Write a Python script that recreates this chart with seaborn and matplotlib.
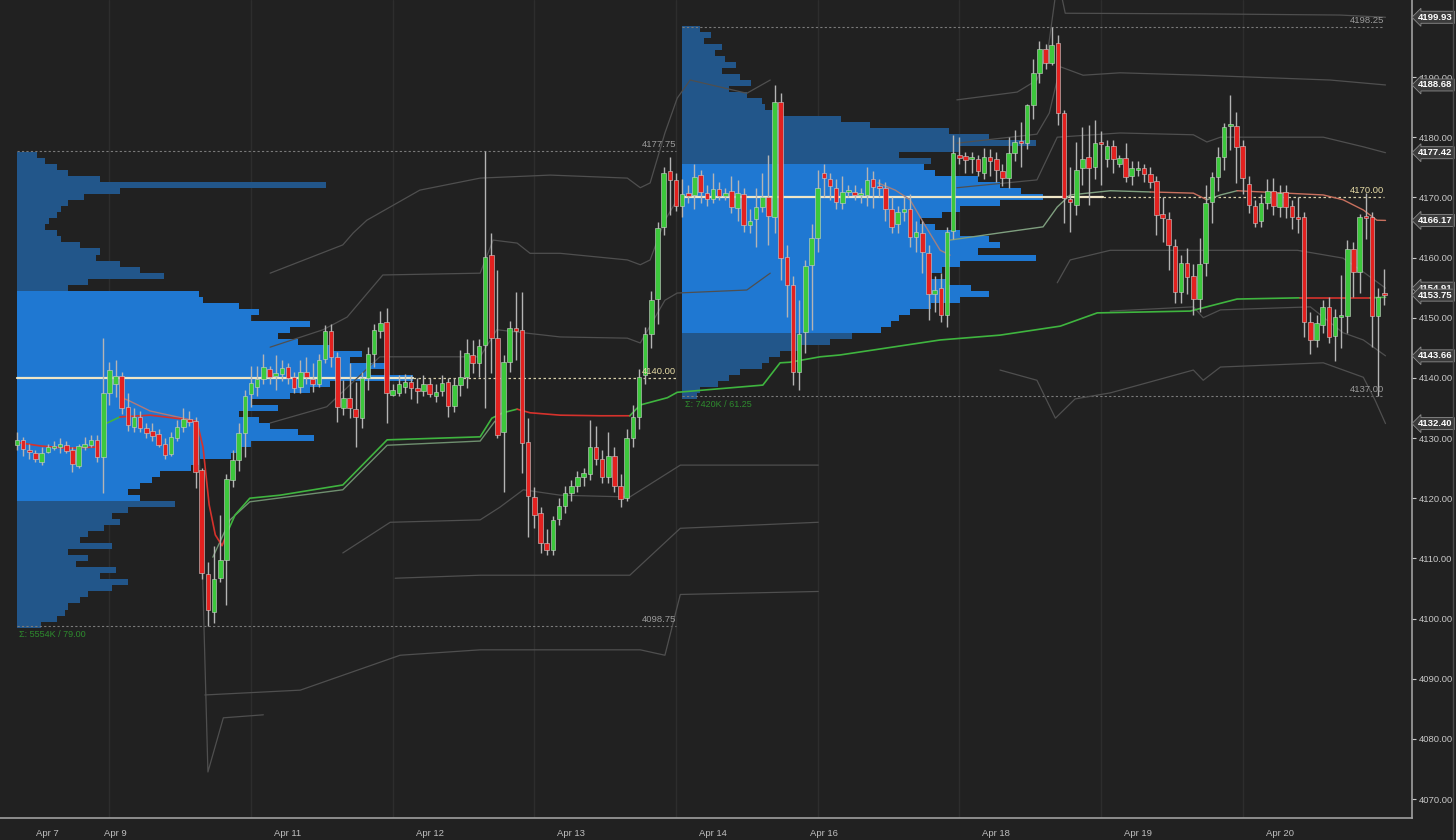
import numpy as np
import pandas as pd
import matplotlib
matplotlib.use("Agg")
import matplotlib.pyplot as plt
import seaborn as sns

# ---------------- candle data (bar index = position) ----------------
opens = [4128.8,4129.7,4128.0,4127.5,4126.0,4127.7,4128.4,4128.5,4128.9,4128.0,4125.4,4128.5,4128.9,4129.7,4126.9,4137.5,4139.0,4140.3,4135.2,4131.9,4133.5,4131.7,4131.2,4130.7,4129.0,4127.4,4130.0,4131.9,4133.2,4132.9,4124.7,4107.4,4101.1,4106.8,4109.8,4123.0,4126.4,4130.9,4137.3,4138.5,4139.8,4141.5,
         4140.3,4140.7,4141.8,4140.2,4138.5,4141.0,4139.8,4139.0,4143.2,4147.8,4143.5,4135.0,4136.7,4134.8,4133.4,4140.0,4144.0,4147.8,4149.3,4137.2,4137.5,4138.5,4139.3,4138.3,4137.8,4139.0,4137.0,4137.8,4139.3,4135.3,4138.8,4140.2,4143.8,4142.5,4145.5,4160.4,4146.6,4131.0,4142.7,4148.3,4148.0,4129.4,4120.2,4117.6,4112.6,4111.4,4116.5,
         4118.7,4120.8,4122.0,4123.5,4124.0,4128.5,4126.5,4123.5,4127.0,4122.0,4120.0,4130.0,
         4133.5,4140.5,4147.3,4153.1,4165.0,4174.4,4172.9,4168.6,4170.8,4170.4,4173.7,4170.7,4169.7,4171.4,4170.2,4171.0,4168.3,4170.5,4165.4,4166.4,4168.4,4170.1,4166.8,4185.8,4160.1,4155.4,4141.0,4147.7,4158.8,4163.3,4174.0,4173.0,
         4171.6,4169.1,4170.9,4170.9,4170.4,4170.4,4173.0,4171.9,4171.5,4168.1,4165.6,4167.6,4168.1,4163.4,4164.0,4160.8,4154.0,4155.0,4150.5,4164.4,4177.1,4176.9,4176.4,4176.4,4174.0,4176.7,4176.4,4174.4,4173.2,4177.4,4179.2,4179.0,4185.3,4190.6,4194.7,4192.4,4195.6,4184.0,4169.7,4168.7,4174.9,4176.7,4175.0,4179.2,4176.3,4178.5,4175.6,
         4176.6,4173.6,4174.6,4174.8,4173.9,4172.7,4167.2,4166.4,4161.9,4154.3,4159.1,4156.9,4153.1,4159.1,4169.2,4173.4,4176.7,4181.9,4181.9,4178.5,4172.2,4168.6,4166.1,4169.1,4171.0,4168.4,4170.9,4168.6,4166.7,4166.7,4149.3,4146.3,4148.8,4151.8,4147.0,4150.1,4150.2,4161.4,4157.6,4166.9,4166.7,4150.3,4153.8]
highs = [4131.0,4130.2,4129.0,4128.0,4128.5,4129.0,4129.5,4130.0,4129.5,4128.5,4129.0,4130.2,4130.5,4130.5,4146.6,4142.7,4143.0,4141.0,4137.5,4135.0,4134.5,4132.5,4132.5,4131.5,4130.0,4131.0,4133.0,4135.0,4134.5,4133.5,4125.0,4109.4,4112.0,4117.2,4124.0,4128.0,4132.5,4138.0,4142.0,4142.0,4144.0,4142.0,
         4143.8,4143.0,4142.5,4141.0,4143.0,4143.5,4142.5,4144.0,4148.8,4149.0,4144.3,4139.7,4142.5,4139.3,4141.0,4145.2,4149.0,4151.1,4151.6,4139.0,4140.5,4140.7,4140.5,4140.0,4140.5,4140.0,4139.0,4140.5,4140.0,4140.0,4144.6,4146.5,4146.3,4146.5,4177.75,4164.0,4158.0,4143.8,4149.5,4154.3,4154.3,4133.4,4121.9,4118.5,4114.8,4117.0,4120.0,
         4122.0,4123.0,4124.5,4125.0,4133.0,4132.0,4128.0,4131.0,4128.5,4124.0,4131.5,4135.5,
         4141.5,4148.5,4154.5,4165.9,4175.0,4176.7,4174.0,4173.0,4172.0,4175.5,4174.5,4172.0,4174.0,4172.5,4171.5,4173.5,4172.9,4171.5,4168.0,4171.5,4174.0,4177.0,4188.7,4187.3,4162.0,4157.0,4153.0,4159.6,4165.6,4174.5,4175.5,4174.0,
         4173.0,4173.5,4172.0,4172.0,4171.5,4175.0,4174.3,4173.0,4172.5,4170.0,4168.5,4170.0,4170.5,4166.0,4166.0,4162.0,4157.0,4157.4,4165.0,4180.4,4180.0,4177.5,4177.5,4177.0,4178.2,4178.0,4177.5,4175.5,4180.0,4181.2,4182.5,4185.5,4193.0,4196.0,4195.5,4198.25,4197.0,4184.5,4175.0,4179.2,4181.7,4182.0,4182.9,4181.0,4179.5,4179.5,4177.0,
         4179.0,4176.0,4176.0,4175.5,4175.0,4173.5,4170.0,4167.5,4163.0,4160.5,4161.6,4159.0,4163.3,4172.1,4174.2,4178.4,4182.4,4187.0,4184.2,4179.5,4173.5,4169.5,4170.5,4173.0,4173.2,4172.0,4172.0,4169.5,4170.0,4167.5,4151.0,4150.5,4153.0,4153.5,4151.5,4157.1,4162.9,4162.5,4167.2,4170.7,4167.5,4155.0,4158.1]
lows = [4128.0,4127.0,4126.5,4126.0,4125.5,4127.5,4128.0,4127.5,4127.5,4124.4,4125.0,4128.0,4128.5,4126.0,4120.9,4135.5,4136.8,4134.0,4131.2,4131.0,4131.0,4130.0,4129.5,4128.5,4126.5,4127.0,4129.5,4131.0,4132.0,4121.7,4106.5,4098.75,4099.3,4106.0,4102.3,4121.9,4124.5,4126.9,4135.2,4137.0,4139.0,4139.0,
        4138.0,4139.5,4139.0,4137.5,4137.5,4139.0,4137.7,4138.5,4142.5,4141.8,4132.7,4133.9,4133.4,4128.5,4131.7,4138.0,4141.8,4146.6,4132.5,4137.0,4137.0,4137.5,4136.5,4135.8,4137.0,4136.8,4136.0,4137.0,4133.5,4134.3,4137.0,4138.3,4140.8,4140.2,4135.0,4140.8,4130.0,4121.0,4141.0,4143.0,4124.2,4113.6,4115.0,4110.9,4110.5,4110.5,4115.5,
        4117.5,4119.5,4121.0,4122.0,4123.0,4125.5,4122.5,4122.5,4121.0,4118.5,4119.5,4128.5,
        4131.5,4139.0,4145.0,4149.0,4163.8,4167.0,4167.7,4166.7,4169.0,4168.0,4169.0,4168.5,4169.0,4169.5,4169.5,4167.4,4166.0,4164.3,4164.0,4161.8,4167.5,4162.1,4164.0,4156.3,4150.1,4138.8,4138.0,4144.2,4148.0,4161.0,4170.0,4169.5,
        4168.0,4168.0,4170.0,4169.5,4169.0,4168.5,4168.2,4170.0,4166.0,4164.0,4164.0,4166.0,4161.8,4161.0,4157.4,4149.6,4151.0,4149.3,4148.5,4163.0,4175.5,4174.0,4174.0,4173.5,4173.0,4173.5,4172.5,4171.9,4171.5,4176.0,4175.0,4178.0,4183.0,4189.0,4191.3,4192.0,4182.0,4165.7,4164.3,4167.0,4172.0,4168.7,4173.0,4172.0,4175.0,4174.0,4175.0,
        4172.5,4172.0,4173.5,4172.5,4171.5,4163.8,4162.6,4158.0,4152.5,4152.5,4154.0,4150.5,4151.0,4157.0,4165.7,4171.0,4174.5,4177.9,4172.4,4170.5,4167.4,4165.1,4165.0,4168.0,4167.0,4166.7,4166.5,4164.8,4164.0,4146.8,4144.0,4145.1,4147.5,4145.8,4142.8,4145.0,4147.5,4153.5,4154.1,4163.0,4145.1,4137.0,4152.1]
closes = [4129.7,4128.2,4127.7,4126.5,4127.5,4128.5,4128.7,4129.0,4127.9,4125.7,4128.7,4129.0,4129.6,4126.9,4137.5,4141.3,4140.3,4135.0,4132.2,4133.5,4131.7,4130.9,4130.4,4128.9,4127.2,4130.2,4131.9,4133.2,4132.7,4124.4,4107.6,4101.5,4106.6,4109.8,4123.2,4126.4,4130.9,4137.0,4139.2,4139.8,4141.8,4140.2,
          4140.8,4141.7,4140.0,4138.3,4141.0,4140.2,4139.0,4143.0,4147.8,4143.5,4135.2,4136.7,4135.0,4133.5,4140.0,4144.0,4148.0,4149.1,4137.5,4138.0,4139.0,4139.3,4138.3,4137.8,4139.0,4137.3,4137.7,4139.2,4135.3,4138.8,4140.2,4144.2,4142.5,4145.3,4160.1,4146.6,4130.5,4142.7,4148.3,4147.8,4129.2,4120.4,4117.2,4112.6,4111.4,4116.4,4118.7,
          4120.8,4122.0,4123.5,4124.2,4128.5,4126.5,4123.5,4127.0,4122.0,4119.8,4130.0,4133.5,
          4140.2,4147.3,4153.0,4164.9,4174.0,4172.9,4168.6,4170.6,4170.3,4173.4,4170.9,4169.7,4171.4,4170.2,4170.7,4168.4,4170.8,4165.4,4166.1,4168.4,4170.1,4166.9,4185.8,4160.0,4155.4,4141.0,4147.3,4158.6,4163.3,4171.6,4173.2,4171.9,
          4169.2,4170.9,4171.0,4170.4,4170.5,4172.9,4171.7,4171.5,4168.1,4165.1,4167.6,4168.1,4163.4,4164.2,4160.9,4154.0,4154.6,4150.5,4164.3,4177.4,4176.6,4176.2,4176.4,4174.4,4176.7,4176.0,4174.6,4173.2,4177.4,4179.2,4179.0,4185.3,4190.6,4194.7,4192.4,4195.3,4184.0,4169.9,4169.2,4174.6,4176.4,4174.9,4179.0,4178.9,4178.5,4176.3,4176.6,
          4173.4,4174.8,4174.6,4173.9,4172.6,4167.1,4166.6,4162.1,4154.3,4159.1,4156.8,4153.1,4158.9,4169.1,4173.4,4176.7,4181.7,4182.0,4178.4,4173.2,4168.7,4165.7,4169.1,4171.1,4168.6,4170.7,4168.4,4166.7,4166.4,4149.3,4146.3,4149.1,4151.8,4146.8,4150.1,4150.5,4161.4,4157.6,4166.7,4166.6,4150.3,4153.5,4153.75]

# ---------------- x axis labels ----------------
tick_pos = [5, 16, 21, 44, 67, 90, 113, 131, 136, 159, 182, 205]
tick_labels = ["Apr 7", "Apr 9", "", "Apr 11", "Apr 12", "Apr 13", "Apr 14", "Apr 16", "", "Apr 18", "Apr 19", "Apr 20"]
session_starts = [15, 38, 61, 84, 107, 130, 153, 176, 199]

# ---------------- volume profiles (relative volume per 1-pt row) ----------------
p1_prices = list(range(4099, 4178))
p1_volume = [6,10,12,13,16,18,24,28,21,25,15,18,13,24,16,18,22,26,24,28,40,31,28,31,34,36,44,46,54,56,59,75,71,64,61,56,66,59,69,74,79,100,89,94,84,87,79,71,66,69,74,59,61,56,47,46,13,18,37,31,26,20,21,16,11,10,7,8,10,11,13,17,26,78,21,13,10,7,5]
p1_va = (4120, 4154)
p1_poc = 4140.00
p1_high, p1_low = 4177.75, 4098.75
p1_label = "Σ: 5554K / 79.00"
p1_span = (0, 107)

p2_prices = list(range(4137, 4199))
p2_volume = [4,5,10,13,16,22,24,27,33,41,47,55,58,60,63,69,77,85,80,74,69,72,77,98,82,88,85,77,70,66,72,77,88,100,94,88,82,70,67,69,60,77,98,85,74,52,44,27,23,22,18,13,19,16,11,15,12,9,11,6,8,5]
p2_va = (4148, 4175)
p2_poc = 4170.00
p2_high, p2_low = 4198.25, 4137.00
p2_label = "Σ: 7420K / 61.25"
p2_span = (108, 222)

# ---------------- VWAP lines (bar index, price) ----------------
vwap_segments = [
    ("red",   [0.5, 3.7, 8.1, 13.0], [4129.2, 4128.7, 4128.3, 4128.5]),
    ("green", [14.0, 16.7], [4132.2, 4133.5]),
    ("red",   [16.7, 21.6, 26.5, 29.2, 30.2, 31.2, 32.2, 33.3, 34.1], [4133.5, 4133.8, 4133.2, 4132.8, 4128.5, 4118.9, 4113.9, 4112.1, 4114.2]),
    ("green", [34.1, 35.4, 37.8, 42.7, 52.9, 60.1, 75.2, 77.1, 78.9, 81.2], [4114.2, 4117.2, 4120.0, 4120.5, 4122.2, 4129.7, 4130.2, 4133.3, 4134.2, 4134.8]),
    ("red",   [81.2, 83.3, 88.2, 94.7, 99.5], [4134.8, 4134.2, 4133.8, 4133.7, 4133.7]),
    ("green", [99.5, 101.2, 105.6, 107.2, 121.1, 123.9, 125.5, 130.4, 133.6, 149.9, 159.6, 169.4, 175.4, 190.5, 198.1, 208.3],
              [4133.7, 4135.5, 4136.7, 4137.6, 4138.8, 4142.5, 4142.6, 4143.5, 4143.8, 4146.3, 4147.1, 4148.6, 4150.8, 4151.1, 4153.1, 4153.3]),
    ("red",   [208.3, 219.7], [4153.3, 4153.3]),
    ("green", [219.7, 222.2], [4153.3, 4153.4]),
]
pale_segments = [
    ("#b07a7a", [16.7, 18.0, 21.6, 29.2], [4136.8, 4136.3, 4134.5, 4132.8]),
    ("#6f8f6f", [31.8, 34.6, 37.8, 52.9, 60.1, 75.2, 77.6], [4110.2, 4116.4, 4119.4, 4121.4, 4128.8, 4129.5, 4132.8]),
    ("#a08080", [139.8, 142.6, 145.0, 147.4, 149.9, 151.5], [4172.4, 4171.2, 4169.6, 4165.4, 4161.2, 4160.4]),
    ("#7f9f7f", [151.5, 159.6, 166.6, 168.9, 171.0, 177.5, 184.0], [4162.9, 4164.1, 4165.1, 4168.4, 4170.4, 4171.1, 4170.9]),
    ("#c8705e", [184.0, 191.0, 193.2], [4170.9, 4170.7, 4169.6]),
    ("#7f9f7f", [193.2, 195.4, 198.1], [4169.6, 4170.4, 4171.1]),
    ("#c8705e", [198.1, 212.1, 215.3, 218.6, 220.8, 222.2], [4171.1, 4170.4, 4169.6, 4167.9, 4166.2, 4166.17]),
]

# ---------------- deviation bands (bar index, price) ----------------
bands = [
    ([41.1, 52.9, 54.6, 56.8, 65.4, 75.2, 86.6, 99.1, 101.2, 102.8, 105.2, 107.2, 109.3, 118.5, 122.3],
     [4157.4, 4162.1, 4164.1, 4166.2, 4171.2, 4173.2, 4173.7, 4173.2, 4171.6, 4172.4, 4180.7, 4186.5, 4189.5, 4187.3, 4189.5]),
    ([41.1, 49.7, 53.6, 59.4, 75.2, 77.3, 81.2, 83.3, 88.2, 99.1, 101.2, 102.8, 105.2, 107.2],
     [4145.1, 4148.0, 4150.1, 4157.1, 4157.4, 4162.9, 4162.4, 4160.7, 4160.7, 4159.6, 4158.8, 4159.6, 4166.2, 4169.6]),
    ([41.1, 50.3, 58.9, 75.2, 77.9, 82.2, 88.2, 99.1, 101.2, 105.2, 107.2, 118.5, 122.3],
     [4132.5, 4135.2, 4143.5, 4143.5, 4148.0, 4147.5, 4146.8, 4146.6, 4145.8, 4152.9, 4154.1, 4154.6, 4157.4]),
    ([52.9, 60.6, 75.2, 78.4, 82.2, 88.2, 99.5, 107.7, 130.1],
     [4110.9, 4116.0, 4116.4, 4118.5, 4121.4, 4120.5, 4120.2, 4125.5, 4125.5]),
    ([61.4, 75.2, 99.5, 107.7, 130.1], [4106.7, 4107.2, 4107.2, 4115.0, 4116.0]),
    ([30.5, 46.0, 62.2, 75.2, 101.2, 105.2, 107.7, 130.1],
     [4087.3, 4088.1, 4093.9, 4094.8, 4094.8, 4093.9, 4104.0, 4104.5]),
    ([29.5, 31.0, 33.5, 40.0], [4131.0, 4074.5, 4083.5, 4084.0]),
    ([152.6, 162.4, 165.6, 167.4, 168.6, 169.6, 170.2, 192.1, 214.8, 222.2],
     [4186.2, 4187.5, 4189.5, 4194.5, 4203.5, 4203.5, 4200.6, 4200.5, 4200.3, 4199.93]),
    ([152.6, 165.6, 167.6, 169.4, 173.1, 179.1, 192.1, 213.2, 222.2],
     [4179.0, 4180.5, 4184.0, 4191.7, 4190.3, 4190.7, 4190.3, 4189.5, 4188.68]),
    ([152.6, 165.6, 168.9, 179.1, 191.0, 193.2, 195.4, 212.1, 218.6, 222.2],
     [4171.6, 4172.9, 4180.0, 4180.7, 4180.4, 4179.2, 4180.0, 4180.0, 4178.4, 4177.42]),
    ([168.9, 171.0, 177.5, 207.9, 215.3, 218.6, 222.2],
     [4155.8, 4159.6, 4161.2, 4161.2, 4159.9, 4157.6, 4154.91]),
    ([177.5, 191.0, 192.6, 195.4, 210.0, 215.3, 218.6, 222.2],
     [4151.1, 4151.8, 4150.0, 4151.3, 4151.8, 4147.5, 4146.3, 4143.66]),
    ([159.6, 165.6, 168.6, 171.8, 177.5, 191.0, 192.6, 195.4, 212.1, 218.6, 220.5, 222.2],
     [4141.3, 4139.6, 4133.3, 4136.5, 4137.5, 4141.3, 4139.6, 4141.8, 4142.5, 4140.1, 4136.3, 4132.40]),
]

# right axis price tags
tag_values = [4199.93, 4188.68, 4177.42, 4166.17, 4154.91, 4143.66, 4132.40]
last_price = 4153.75

# ---------------- styling ----------------
BG = "#212121"
GREEN = "#3cc83c"
RED = "#e3211f"
LINE_GREEN = "#3fb53f"
LINE_RED = "#d6322c"
VA_BLUE = "#1f78d2"
OUT_BLUE = "#22568a"

sns.set_theme(style="dark", rc={"axes.facecolor": BG, "figure.facecolor": BG})
plt.rcParams["font.family"] = ["Liberation Sans", "DejaVu Sans"]
AXIS_FS = 6.8
LABEL_FS = 6.8

fig = plt.figure(figsize=(14.56, 8.4), dpi=100)
ax = fig.add_axes([0.0, 1 - 818 / 840, 1412 / 1456, 818 / 840])
ax.set_facecolor(BG)

n = len(opens)
df = pd.DataFrame({"i": np.arange(n), "o": opens, "h": highs, "l": lows, "c": closes})

for s in session_starts:
    ax.axvline(s, color="#2d2d2d", lw=1.0, zorder=0)

# volume profiles
def draw_profile(prices, vols, va, span, maxlen):
    vols = np.asarray(vols, float)
    lens = vols / vols.max() * maxlen
    cols = [VA_BLUE if va[0] <= p <= va[1] else OUT_BLUE for p in prices]
    ax.barh(prices, lens, left=span[0], height=1.0, color=cols, edgecolor="none", zorder=1)

draw_profile(p1_prices, p1_volume, p1_va, p1_span, 64.3)
draw_profile(p2_prices, p2_volume, p2_va, p2_span, 58.6)

dot = (0, (2, 2))
for (hi, lo, span) in [(p1_high, p1_low, p1_span), (p2_high, p2_low, p2_span)]:
    ax.plot([span[0], span[1]], [hi, hi], color="#7a7a7a", lw=0.8, ls=dot, zorder=2)
    ax.plot([span[0], span[1]], [lo, lo], color="#7a7a7a", lw=0.8, ls=dot, zorder=2)
    ax.text(span[1], hi + 0.35, f"{hi:.2f}", color="#9a9a9a", fontsize=LABEL_FS, ha="right", va="bottom", zorder=6)
    ax.text(span[1], lo + 0.35, f"{lo:.2f}", color="#9a9a9a", fontsize=LABEL_FS, ha="right", va="bottom", zorder=6)

ax.text(p1_span[0] + 0.4, p1_low - 0.6, p1_label, color="#2e8b2e", fontsize=6.5, ha="left", va="top", zorder=6)
ax.text(p2_span[0] + 0.4, p2_low - 0.6, p2_label, color="#2e8b2e", fontsize=6.5, ha="left", va="top", zorder=6)

# POC lines
POC = "#efe6c6"
ax.plot([p1_span[0], p1_span[0] + 64.3], [p1_poc, p1_poc], color=POC, lw=1.6, zorder=2.5)
ax.plot([p1_span[0] + 64.3, p1_span[1]], [p1_poc, p1_poc], color="#d8cfa8", lw=0.9, ls=dot, zorder=2.5)
ax.text(p1_span[1], p1_poc + 0.35, f"{p1_poc:.2f}", color="#e6dba6", fontsize=LABEL_FS, ha="right", va="bottom", zorder=6)
ax.plot([p2_span[0], p2_span[0] + 68.4], [p2_poc, p2_poc], color=POC, lw=1.6, zorder=2.5)
ax.plot([p2_span[0] + 68.4, p2_span[1]], [p2_poc, p2_poc], color="#d8cfa8", lw=0.9, ls=dot, zorder=2.5)
ax.text(p2_span[1], p2_poc + 0.35, f"{p2_poc:.2f}", color="#e6dba6", fontsize=LABEL_FS, ha="right", va="bottom", zorder=6)

# bands
for bx, by in bands:
    sns.lineplot(x=bx, y=by, ax=ax, color="#4f4f4f", lw=0.9, sort=False, estimator=None, zorder=3)

# vwap lines
for col, xs, ys in vwap_segments:
    sns.lineplot(x=xs, y=ys, ax=ax, color=LINE_GREEN if col == "green" else LINE_RED, lw=1.2,
                 sort=False, estimator=None, zorder=3.2)
for col, xs, ys in pale_segments:
    sns.lineplot(x=xs, y=ys, ax=ax, color=col, lw=1.0, sort=False, estimator=None, zorder=3.1)

# candles
up = df["c"] >= df["o"]
ax.vlines(df["i"], df["l"], df["h"], color="#b4b4b4", lw=1.0, zorder=4)
body_lo = np.minimum(df["o"], df["c"])
body_h = np.maximum(np.abs(df["c"] - df["o"]), 0.35)
ax.bar(df["i"], body_h, bottom=body_lo, width=0.74,
       color=np.where(up, GREEN, RED), edgecolor="#d0d0d0", linewidth=0.4, zorder=4.5)

# axes
ax.set_xlim(-2.76, 226.5)
ax.set_ylim(4066.85, 4202.8)
ax.yaxis.tick_right()
ax.set_yticks(np.arange(4070, 4191, 10))
ax.yaxis.set_major_formatter(matplotlib.ticker.FormatStrFormatter("%.2f"))
ax.set_xticks(tick_pos)
ax.set_xticklabels(tick_labels)
ax.tick_params(axis="y", colors="#c8c8c8", labelsize=AXIS_FS, length=3, width=0.8, direction="out", pad=2)
ax.tick_params(axis="x", colors="#c0c0c0", labelsize=AXIS_FS, length=3, width=0.8, direction="out", pad=5)
for side in ["left", "top"]:
    ax.spines[side].set_visible(False)
for side in ["right", "bottom"]:
    ax.spines[side].set_visible(True)
    ax.spines[side].set_color("#a0a0a0")
    ax.spines[side].set_linewidth(1.2)
ax.set_xlabel("")
ax.set_ylabel("")
ax.grid(False)

# price tags on the right axis
tr = ax.get_yaxis_transform()
for v in tag_values + [last_price]:
    ax.text(1.0045, v, f"{v:.2f}", transform=tr, color="white", fontsize=AXIS_FS, fontweight="bold",
            ha="left", va="center", zorder=10, clip_on=False,
            bbox=dict(boxstyle="larrow,pad=0.16", fc="#3b3b3b", ec="#8c8c8c", lw=0.6))

# outer panel border on the far right
fig.add_artist(matplotlib.lines.Line2D([1453 / 1456, 1453 / 1456], [0, 1], color="#4a4a4a", lw=1.0))

fig.savefig("out.png", dpi=100, facecolor=BG)
